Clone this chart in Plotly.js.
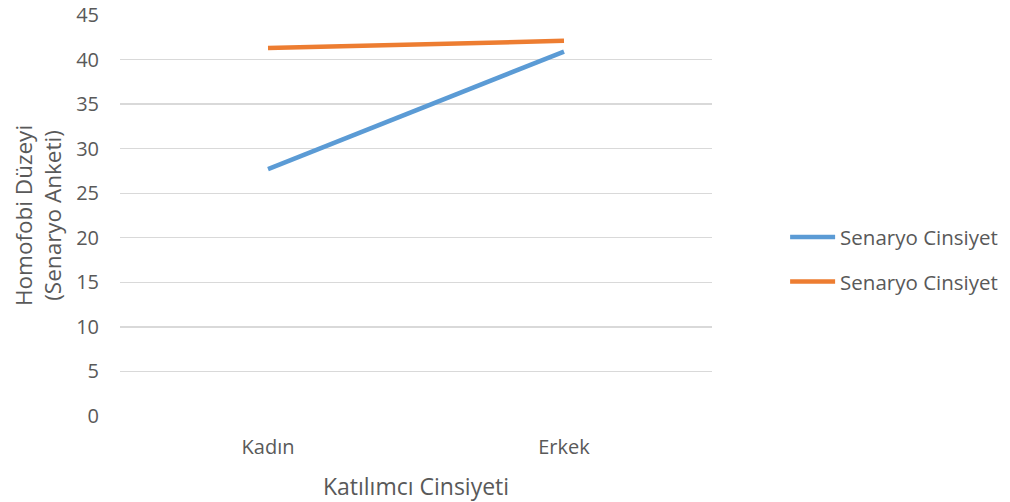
<!DOCTYPE html>
<html>
<head>
<meta charset="utf-8">
<script src="https://cdn.plot.ly/plotly-3.0.1.min.js"></script>
<style>html,body{margin:0;padding:0;background:#fff;}#chart{width:1010px;height:502px;}</style>
</head>
<body>
<div id="chart"></div>
<script>
const categories = ["Kadın", "Erkek"];
const seriesNames = ["Senaryo Cinsiyet", "Senaryo Cinsiyet"];
const seriesBlue = [27.7, 40.9];
const seriesOrange = [41.3, 42.1];
const yTicks = [0, 5, 10, 15, 20, 25, 30, 35, 40, 45];

const font = "'Open Sans', sans-serif";
const textColor = "#595959";

const traces = [
  {x: categories, y: seriesBlue, name: seriesNames[0], type: "scatter", mode: "lines",
   line: {color: "#5B9BD5", width: 4.5}, legendgroup: "a"},
  {x: categories, y: seriesOrange, name: seriesNames[1], type: "scatter", mode: "lines",
   line: {color: "#ED7D31", width: 4.5}, legendgroup: "b"}
];

const layout = {
  width: 1010, height: 502,
  margin: {l: 120, r: 298, t: 15, b: 86, autoexpand: false},
  paper_bgcolor: "#fff", plot_bgcolor: "#fff",
  font: {family: font, color: textColor, size: 20},
  showlegend: true,
  legend: {x: 1.1235, xanchor: "left", y: 0.39, yanchor: "middle",
           traceorder: "grouped", tracegroupgap: 15, itemwidth: 45,
           font: {size: 20.5, color: textColor}, bgcolor: "rgba(0,0,0,0)"},
  xaxis: {type: "category", range: [-0.5, 1.5], showgrid: false, zeroline: false,
          showline: false, ticks: "", tickfont: {size: 20, color: textColor},
          ticklabelstandoff: 17,
          title: {text: "Katılımcı Cinsiyeti", font: {size: 23, color: textColor}, standoff: 19}},
  yaxis: {range: [0, 45], tickvals: yTicks, showgrid: true, gridcolor: "#D9D9D9", gridwidth: 1.3,
          zeroline: false, showline: false, ticks: "", tickfont: {size: 20, color: textColor},
          ticklabelstandoff: 20,
          title: {text: "Homofobi Düzeyi<br>(Senaryo Anketi)", font: {size: 22.5, color: textColor}, standoff: 8}}
};

Plotly.newPlot("chart", traces, layout, {displayModeBar: false, staticPlot: true});
</script>
</body>
</html>
